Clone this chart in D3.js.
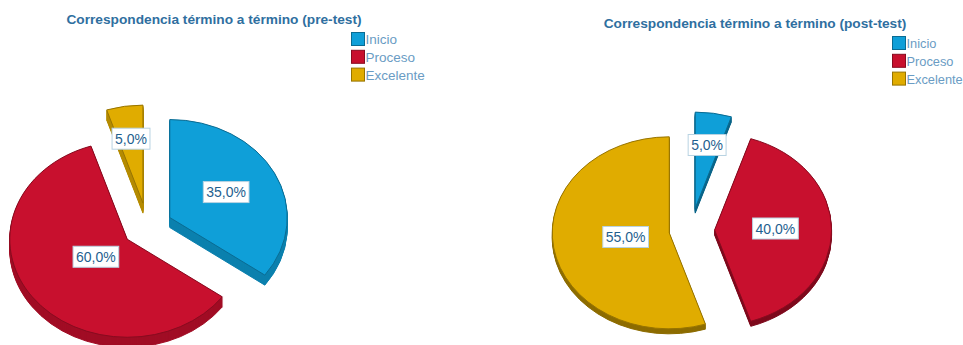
<!DOCTYPE html>
<html>
<head>
<meta charset="utf-8">
<script src="https://cdn.jsdelivr.net/npm/d3@7/dist/d3.min.js"></script>
<style>
  html, body { margin: 0; padding: 0; background: #fff; overflow: hidden; }
  svg { display: block; font-family: "Liberation Sans", Arial, sans-serif; }
</style>
</head>
<body>
<svg id="chart" width="963" height="345"></svg>
<script>
// Achievement levels and their colours
const levels = ["Inicio", "Proceso", "Excelente"];
const faceColors = ["#0f9fd8", "#c8102e", "#e0ac00"];

// Percentage of students per level, in drawing order (clockwise from the top)
const preValues = [35, 60, 5];
const postValues = [5, 40, 55];

const preTitle = "Correspondencia término a término (pre-test)";
const postTitle = "Correspondencia término a término (post-test)";

// Layout of each panel; explode lists each slice's pull-out distance
const panels = [
  { title: preTitle, values: preValues, cx: 147.5, cy: 227, explode: [25, 25, 29], depth: 10,
    radiusX: 117.5, radiusY: 98, titleX: 214, titleY: 24, legendX: 351, legendY: 32,
    legendFont: 13.5, wallDarken: 0.6 },
  { title: postTitle, values: postValues, cx: 691, cy: 230, explode: [27, 23.6, 22], depth: 5,
    radiusX: 117, radiusY: 96, titleX: 755, titleY: 28, legendX: 892, legendY: 36,
    legendFont: 12.8, wallDarken: 1.3 }
];

const svg = d3.select("#chart");
const color = d3.scaleOrdinal(levels, faceColors);
const pie = d3.pie().sort(null).value(d => d.value);

// Small slices carry their label further out than large ones
const labelReach = d3.scaleLinear().domain([5, 40, 60]).range([0.65, 0.52, 0.33]);

panels.forEach(panel => {
  const g = svg.append("g");
  const { radiusX, radiusY } = panel;
  const tilt = radiusY / radiusX;
  const arc = d3.arc().innerRadius(0).outerRadius(radiusX);

  g.append("text")
    .attr("x", panel.titleX).attr("y", panel.titleY)
    .attr("text-anchor", "middle")
    .attr("font-size", 13.7).attr("font-weight", "bold")
    .attr("fill", "#2f6f9f")
    .text(panel.title);

  const slices = pie(panel.values.map((value, i) => ({ level: levels[i], value })));

  const apex = d => {
    const mid = (d.startAngle + d.endAngle) / 2;
    const pull = panel.explode[d.index];
    return [panel.cx + pull * Math.sin(mid),
            panel.cy - pull * Math.cos(mid) * tilt];
  };

  // Side walls: the slice outline swept downward, then the top face over it
  slices.forEach(d => {
    const [ax, ay] = apex(d);
    const base = color(d.data.level);
    const wall = d3.rgb(base).darker(panel.wallDarken);
    d3.range(panel.depth, 0, -1).forEach(step => {
      g.append("path")
        .attr("d", arc(d))
        .attr("transform", `translate(${ax},${ay + step}) scale(1,${tilt})`)
        .attr("fill", wall)
        .attr("stroke", wall)
        .attr("stroke-width", 1)
        .attr("vector-effect", "non-scaling-stroke");
    });
    g.append("path")
      .attr("d", arc(d))
      .attr("transform", `translate(${ax},${ay}) scale(1,${tilt})`)
      .attr("fill", base)
      .attr("stroke", d3.rgb(base).darker(1.1))
      .attr("stroke-width", 1)
      .attr("vector-effect", "non-scaling-stroke");
  });

  // Percentage labels in white boxes
  slices.forEach(d => {
    const [ax, ay] = apex(d);
    const mid = (d.startAngle + d.endAngle) / 2;
    const reach = labelReach(d.data.value);
    const lx = ax + reach * radiusX * Math.sin(mid);
    const ly = ay - reach * radiusY * Math.cos(mid) - 1.5;
    const box = g.append("rect");
    const label = g.append("text")
      .attr("x", lx).attr("y", ly + 5)
      .attr("text-anchor", "middle")
      .attr("font-size", 14)
      .attr("fill", "#1f5f8f")
      .text(d3.format(".1f")(d.data.value).replace(".", ",") + "%");
    const bb = label.node().getBBox();
    box.attr("x", bb.x - 3).attr("y", ly - 10.5)
      .attr("width", bb.width + 6).attr("height", 21)
      .attr("fill", "#fff")
      .attr("stroke", "#b9d3e2")
      .attr("stroke-width", 1);
  });

  // Legend
  const rows = g.selectAll(".legend-row").data(levels).join("g")
    .attr("class", "legend-row")
    .attr("transform", (d, i) => `translate(${panel.legendX},${panel.legendY + i * 17.8})`);
  rows.append("rect")
    .attr("x", 0.5).attr("y", 0.5).attr("width", 13).attr("height", 13)
    .attr("fill", d => color(d))
    .attr("stroke", d => d3.rgb(color(d)).darker(1.1));
  rows.append("text")
    .attr("x", 14.5).attr("y", 12)
    .attr("font-size", panel.legendFont)
    .attr("fill", "#6a9cc4")
    .text(d => d);
});
</script>
</body>
</html>
